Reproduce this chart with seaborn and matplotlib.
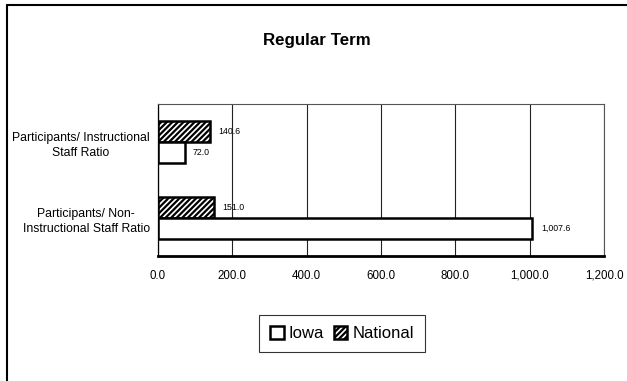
import matplotlib
matplotlib.use('Agg')
import matplotlib.pyplot as plt
from matplotlib.patches import Patch
from matplotlib.lines import Line2D
import seaborn as sns
import pandas as pd

# data
categories = ['Participants/ Instructional\nStaff Ratio',
              'Participants/ Non-\nInstructional Staff Ratio']
iowa_values = [72.0, 1007.6]
national_values = [140.6, 151.0]
x_ticks = [0, 200, 400, 600, 800, 1000, 1200]

df = pd.DataFrame({
    'category': categories * 2,
    'series': ['National'] * 2 + ['Iowa'] * 2,
    'value': national_values + iowa_values,
})

sns.set_style('white')
plt.rcParams['font.family'] = ['Liberation Sans', 'DejaVu Sans']
plt.rcParams['hatch.linewidth'] = 1.6
plt.rcParams['text.color'] = 'black'
plt.rcParams['xtick.color'] = 'black'
plt.rcParams['ytick.color'] = 'black'

fig = plt.figure(figsize=(6.27, 3.81), dpi=100)
ax = fig.add_axes([158 / 627, 1 - 256 / 381, (604 - 158) / 627, (256 - 104) / 381])

sns.barplot(data=df, y='category', x='value', hue='series',
            hue_order=['National', 'Iowa'], order=categories,
            orient='h', width=0.56, gap=0, ax=ax, legend=False,
            palette={'National': 'white', 'Iowa': 'white'},
            edgecolor='black', linewidth=1.8, saturation=1)

# hatch for National bars
for cont, name in zip(ax.containers, ['National', 'Iowa']):
    for bar in cont:
        if name == 'National':
            bar.set_hatch('//////')
    ax.bar_label(cont, labels=[f'{v:,.1f}' for v in cont.datavalues],
                 padding=6, fontsize=6.3, color='black')

ax.set_xlim(0, 1200)
ax.set_ylim(1.5, -0.5)
ax.set_xticks(x_ticks)
ax.set_xticklabels([f'{v:,.1f}' for v in x_ticks], fontsize=8.3)
ax.set_yticks([0, 1])
ax.set_yticklabels(categories, fontsize=8.8, multialignment='center', linespacing=1.4)
ax.set_yticks([-0.5, 0.5, 1.5], minor=True)
ax.tick_params(axis='y', which='major', length=0, pad=6, labelcolor='black')
ax.tick_params(axis='y', which='minor', length=4, width=0.8, direction='out', color='black')
ax.tick_params(axis='x', length=4, width=0.8, direction='out', color='black', pad=6,
               labelcolor='black')
ax.set_xlabel('')
ax.set_ylabel('')

ax.xaxis.grid(True, color='#222222', linewidth=0.8)
ax.set_axisbelow(True)
for side in ['top', 'right']:
    ax.spines[side].set_color('#555555')
    ax.spines[side].set_linewidth(0.8)
ax.spines['left'].set_color('black')
ax.spines['left'].set_linewidth(0.9)
ax.spines['bottom'].set_color('black')
ax.spines['bottom'].set_linewidth(2)

fig.text(317 / 627, 1 - 40 / 381, 'Regular Term', ha='center', va='center',
         fontsize=12.2, fontweight='bold', color='black')

handles = [Patch(facecolor='white', edgecolor='black', linewidth=1.8, label='Iowa'),
           Patch(facecolor='white', edgecolor='black', linewidth=1.8, hatch='//////', label='National')]
leg = fig.legend(handles=handles, loc='center', bbox_to_anchor=(342 / 627, 1 - 333.5 / 381),
                 ncol=2, fontsize=12, frameon=True, fancybox=False,
                 handlelength=0.8, handleheight=0.8, handletextpad=0.3,
                 columnspacing=0.6, borderpad=0.65, borderaxespad=0, labelcolor='black')
leg.get_frame().set_edgecolor('black')
leg.get_frame().set_linewidth(0.8)

# outer chart border (left and top visible)
fig.add_artist(Line2D([7 / 627, 7 / 627], [0, 1 - 4.5 / 381], color='black', linewidth=1.5))
fig.add_artist(Line2D([7 / 627, 1], [1 - 4.5 / 381, 1 - 4.5 / 381], color='black', linewidth=1.5))

fig.savefig('out.png', dpi=100)
